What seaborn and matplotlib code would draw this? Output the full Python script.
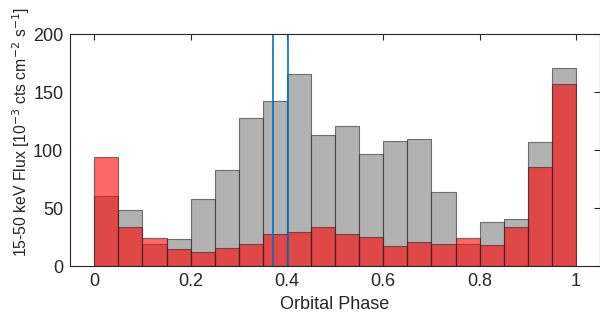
import numpy as np
import pandas as pd
import matplotlib
matplotlib.use("Agg")
import matplotlib.pyplot as plt
import seaborn as sns

bin_edges = np.linspace(0, 1, 21)
bin_centers = (bin_edges[:-1] + bin_edges[1:]) / 2
gray_flux = [60, 48, 19, 23, 58, 83, 128, 142, 166, 113,
             121, 97, 108, 110, 64, 19, 38, 41, 107, 171]
red_flux = [94, 34, 24, 15, 12, 16, 19, 28, 29, 34,
            28, 25, 17, 21, 19, 24, 18, 34, 85, 157]
blue_lines = [0.371, 0.402]

sns.set_theme(style="white")
plt.rcParams['font.family'] = ['Liberation Sans', 'DejaVu Sans']
plt.rcParams['axes.unicode_minus'] = False

fig = plt.figure(figsize=(6, 3.16), dpi=100)
ax = fig.add_axes([0.117, 0.158, 0.883, 0.734])

df_g = pd.DataFrame({"phase": bin_centers, "flux": gray_flux})
df_r = pd.DataFrame({"phase": bin_centers, "flux": red_flux})

sns.histplot(data=df_g, x="phase", weights="flux", binwidth=0.05, binrange=(0, 1), ax=ax,
             color=(0.5, 0.5, 0.5), alpha=0.6, edgecolor=(0.15, 0.15, 0.15, 0.6),
             linewidth=0.8)
sns.histplot(data=df_r, x="phase", weights="flux", binwidth=0.05, binrange=(0, 1), ax=ax,
             color=(1.0, 0.0, 0.0), alpha=0.6, edgecolor=(0.15, 0.15, 0.15, 0.6),
             linewidth=0.8)

for xv in blue_lines:
    ax.axvline(xv, color="#0072BD", linewidth=1.2)

ax.set_xlim(-0.05, 1.05)
ax.set_ylim(0, 200)
ax.set_xticks([0, 0.2, 0.4, 0.6, 0.8, 1])
ax.set_xticklabels(["0", "0.2", "0.4", "0.6", "0.8", "1"])
ax.set_yticks([0, 50, 100, 150, 200])
ax.tick_params(direction="in", top=True, right=True, length=4, width=0.8,
               labelsize=13, colors="#262626", pad=5)
for s in ax.spines.values():
    s.set_color("#262626")
    s.set_linewidth(0.8)
ax.set_xlabel("Orbital Phase", fontsize=13, color="#262626")
ax.set_ylabel("15-50 keV Flux [10$^{-3}$ cts cm$^{-2}$ s$^{-1}$]", fontsize=11.3,
              color="#262626")
ax.yaxis.set_label_coords(-0.072, 0.58)

fig.savefig("out.png", dpi=100)
